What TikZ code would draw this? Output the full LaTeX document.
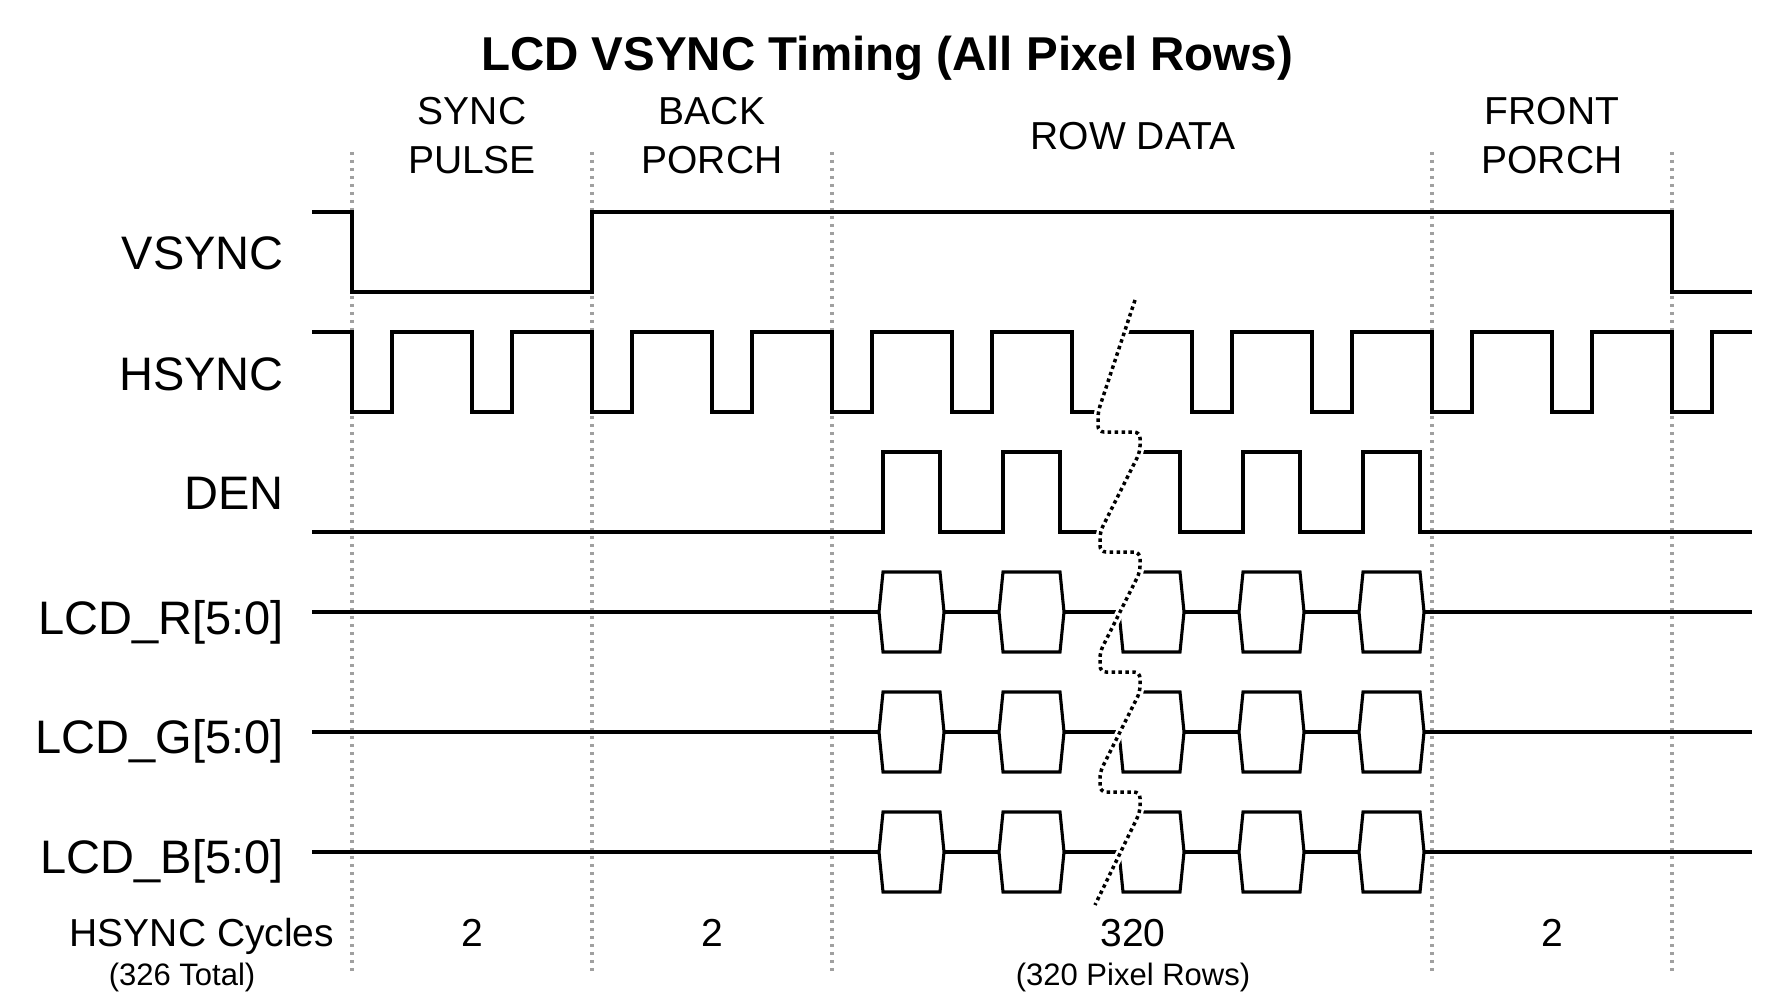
\documentclass[tikz,border=0pt]{standalone}
\usepackage{fontspec}
\setmainfont{Liberation Sans}
\definecolor{divgray}{HTML}{A0A0A0}
\begin{document}
\begin{tikzpicture}[x=1pt,y=-1pt,
  wave/.style={line width=3.1pt, draw=black},
  hexbox/.style={line width=3.1pt, draw=black},
  divline/.style={line width=3.3pt, draw=divgray, dash pattern=on 3.3pt off 4.7pt},
  brkline/.style={line width=3.5pt, draw=black, dash pattern=on 3.5pt off 3.4pt, rounded corners=6pt},
  brkmask/.style={line width=8.5pt, draw=white, rounded corners=6pt},
  siglbl/.style={font=\fontsize{47}{56}\selectfont, inner sep=0pt, anchor=base east},
  phaselbl/.style={font=\fontsize{39}{47}\selectfont, inner sep=0pt, anchor=base},
  smalllbl/.style={font=\fontsize{31}{37}\selectfont, inner sep=0pt, anchor=base},
]
\useasboundingbox (0,0) rectangle (1772,1008);

% phase dividers
\foreach \x [count=\i] in {352,592,832,1432,1672}
  \draw[divline] (\x,152) coordinate (dt\i) -- (\x,972) coordinate (db\i);

% title and phase labels
\node[font=\bfseries\fontsize{47.5}{57}\selectfont, inner sep=0pt, anchor=base] (title) at (887,70.5) {LCD VSYNC Timing (All Pixel Rows)};
\node[phaselbl] (p1a) at (472,125) {SYNC};
\node[phaselbl] (p1b) at (472,174) {PULSE};
\node[phaselbl] (p2a) at (712,125) {BACK};
\node[phaselbl] (p2b) at (712,174) {PORCH};
\node[phaselbl] (p3) at (1133,150) {ROW DATA};
\node[phaselbl] (p4a) at (1552,125) {FRONT};
\node[phaselbl] (p4b) at (1552,174) {PORCH};

% signal labels
\node[siglbl] (lv) at (284,270) {VSYNC};
\node[siglbl] (lh) at (284,390) {HSYNC};
\node[siglbl] (ld) at (284,509) {DEN};
\node[siglbl] (lr) at (284,634) {LCD\_R[5:0]};
\node[siglbl] (lg) at (284,753) {LCD\_G[5:0]};
\node[siglbl] (lb) at (284,873) {LCD\_B[5:0]};

% bottom labels
\node[phaselbl] (cyc) at (202,946) {HSYNC Cycles};
\node[smalllbl] (tot) at (182,985) {(326 Total)};
\node[phaselbl] (n1) at (472,946) {2};
\node[phaselbl] (n2) at (712,946) {2};
\node[phaselbl] (n3) at (1133,946) {320};
\node[phaselbl] (n4) at (1552,946) {2};
\node[smalllbl] (rows) at (1133,985) {(320 Pixel Rows)};

% VSYNC
\draw[wave] (312,212) -- (352,212) -- (352,292) -- (592,292) -- (592,212) -- (1672,212) -- (1672,292) -- (1752,292);

% left of the break
\begin{scope}
\clip[rounded corners=6pt] (0,290) -- (1138.4,290) -- (1135,300) -- (1098,412) -- (1098,432) -- (1140,432) -- (1140,452) -- (1100,532) -- (1100,552) -- (1140,552) -- (1140,572) -- (1100,652) -- (1100,672) -- (1140,672) -- (1140,692) -- (1100,772) -- (1100,792) -- (1140,792) -- (1140,812) -- (1095,905) -- (1088,920) -- (0,920) -- cycle;
\draw[wave] (312,332) foreach \k in {0,...,5} { -- ({352+120*\k},332) -- ({352+120*\k},412) -- ({392+120*\k},412) -- ({392+120*\k},332) } -- (1072,332) -- (1072,412) -- (1150,412);
\draw[wave] (312,532) -- (883,532) -- (883,452) -- (940,452) -- (940,532) -- (1003,532) -- (1003,452) -- (1060,452) -- (1060,532) -- (1150,532);
\foreach \yc in {612,732,852} {
  \draw[wave] (312,\yc) -- (879,\yc);
  \draw[wave] (944,\yc) -- (999,\yc);
  \draw[wave] (1064,\yc) -- (1150,\yc);
  \foreach \xo in {879,999}
    \draw[hexbox] (\xo,\yc) -- ++(4,-40) -- ++(57,0) -- ++(4,40) -- ++(-4,40) -- ++(-57,0) -- cycle;
}
\end{scope}

% right of the break
\begin{scope}
\clip[rounded corners=6pt] (1772,290) -- (1138.4,290) -- (1135,300) -- (1098,412) -- (1098,432) -- (1140,432) -- (1140,452) -- (1100,532) -- (1100,552) -- (1140,552) -- (1140,572) -- (1100,652) -- (1100,672) -- (1140,672) -- (1140,692) -- (1100,772) -- (1100,792) -- (1140,792) -- (1140,812) -- (1095,905) -- (1088,920) -- (1772,920) -- cycle;
\draw[wave] (1090,332) -- (1192,332) -- (1192,412) -- (1232,412) -- (1232,332) foreach \k in {1,...,4} { -- ({1192+120*\k},332) -- ({1192+120*\k},412) -- ({1232+120*\k},412) -- ({1232+120*\k},332) } -- (1752,332);
\draw[wave] (1090,452) -- (1180,452) -- (1180,532) -- (1243,532) -- (1243,452) -- (1300,452) -- (1300,532) -- (1363,532) -- (1363,452) -- (1420,452) -- (1420,532) -- (1752,532);
\foreach \yc in {612,732,852} {
  \draw[wave] (1184,\yc) -- (1239,\yc);
  \draw[wave] (1304,\yc) -- (1359,\yc);
  \draw[wave] (1424,\yc) -- (1752,\yc);
  \foreach \xo in {1119,1239,1359}
    \draw[hexbox] (\xo,\yc) -- ++(4,-40) -- ++(57,0) -- ++(4,40) -- ++(-4,40) -- ++(-57,0) -- cycle;
}
\end{scope}

% break marker
\draw[brkmask] (1135,300) -- (1098,412) -- (1098,432) -- (1140,432) -- (1140,452) -- (1100,532) -- (1100,552) -- (1140,552) -- (1140,572) -- (1100,652) -- (1100,672) -- (1140,672) -- (1140,692) -- (1100,772) -- (1100,792) -- (1140,792) -- (1140,812) -- (1095,905);
\draw[brkline] (1135,300) coordinate (bk0) -- (1098,412) -- (1098,432) -- (1140,432) -- (1140,452) -- (1100,532) -- (1100,552) -- (1140,552) -- (1140,572) -- (1100,652) -- (1100,672) -- (1140,672) -- (1140,692) -- (1100,772) -- (1100,792) -- (1140,792) -- (1140,812) -- (1095,905) coordinate (bk1);
\end{tikzpicture}
\end{document}
